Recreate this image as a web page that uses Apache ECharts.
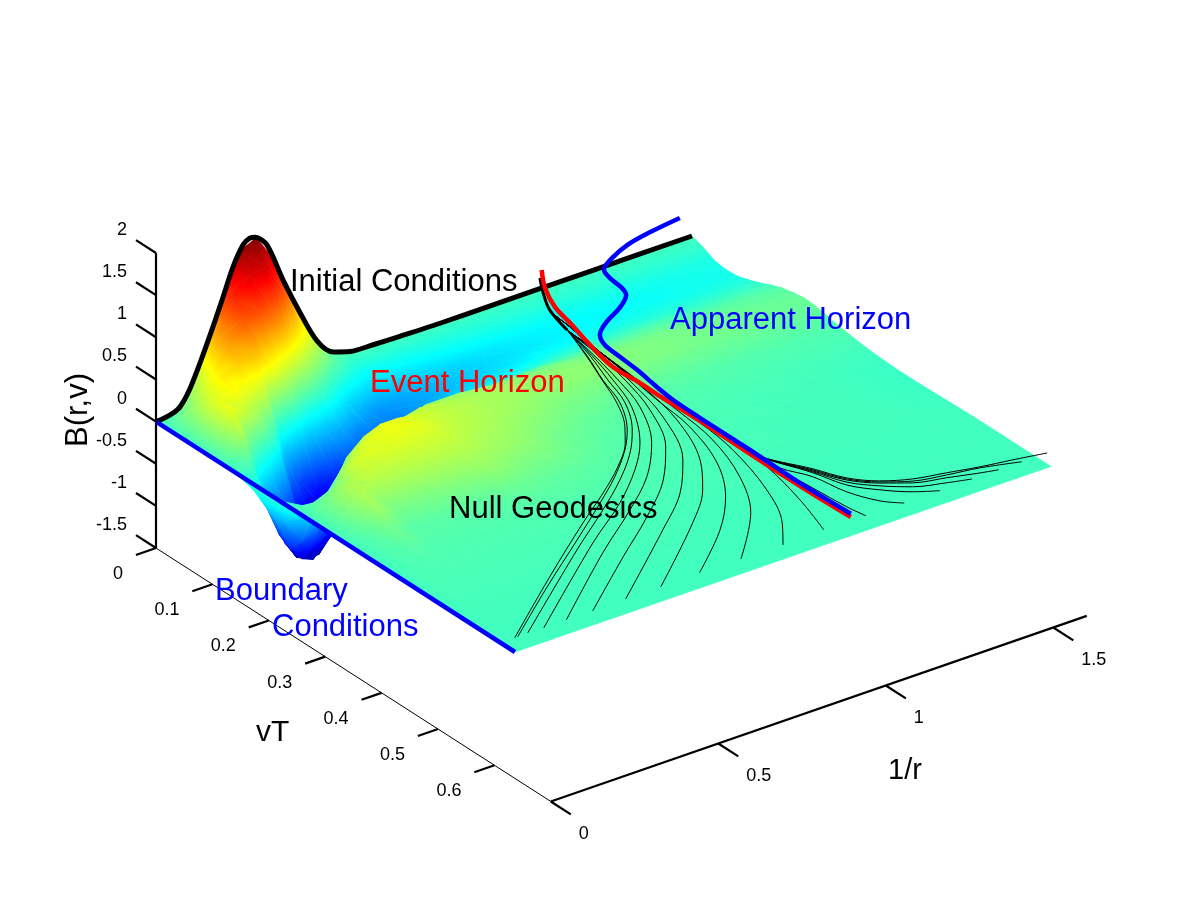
<!DOCTYPE html>
<html><head><meta charset="utf-8">
<style>html,body{margin:0;padding:0;background:#fff}#c{width:1200px;height:900px}</style>
<script src="https://cdn.jsdelivr.net/npm/echarts@6/dist/echarts.min.js"></script>
</head><body><div id="c"></div>
<script>
// ---------- data: surface B(1/r, vT) ----------
const aGrid = [0,.05,.1,.15,.2,.25,.3,.35,.4,.45,.5,.55,.6,.7,.8,.9,1,1.1,1.2,1.3,1.4,1.5,1.6];
const vGrid = [0,.02,.04,.06,.08,.1,.12,.14,.16,.18,.2,.22,.24,.26,.28,.3,.33,.36,.4,.45,.5,.55,.6,.6365];
const b000 = [0,0,0,0,0,0,0,0,0,0,0,0,0,0,0,0,0,0,0,0,0,0,0,0];
const b005 = [.03,.15,.3,.42,.52,.55,.4,.05,-.3,-.45,-.4,-.25,-.05,.1,.18,.18,.12,.06,.04,.03,.02,.01,0,0];
const b010 = [.25,.42,.58,.65,.6,.42,-.05,-.6,-.8,-.88,-.7,-.35,0,.22,.34,.36,.3,.15,.07,.03,.02,.01,0,0];
const b015 = [.7,.85,.9,.75,.5,.2,-.4,-1.05,-1.13,-1.0,-.6,-.1,.26,.45,.42,.34,.18,.08,.05,.03,.02,.01,0,0];
const b020 = [1.2,1.25,1.15,.8,.35,-.2,-.85,-1.3,-1.22,-.85,-.35,.25,.46,.5,.42,.34,.18,.08,.05,.03,.02,.01,0,0];
const b025 = [1.68,1.5,1.15,.55,-.4,-1.0,-1.3,-1.32,-1.03,-.55,-.1,.42,.52,.5,.42,.34,.18,.08,.05,.03,.02,.01,0,0];
const b030 = [1.77,1.5,.95,.2,-.8,-1.2,-1.25,-1.05,-.7,-.3,.25,.5,.55,.5,.42,.34,.2,.09,.05,.03,.02,.01,0,0];
const b035 = [1.45,1.1,.55,-.2,-1.0,-1.15,-1.05,-.8,-.45,-.1,.3,.5,.53,.48,.42,.34,.2,.09,.05,.03,.02,.01,0,0];
const b040 = [.98,.65,.2,-.35,-.9,-1.0,-.9,-.6,-.3,.1,.35,.47,.48,.45,.4,.34,.22,.1,.05,.03,.02,.01,0,0];
const b045 = [.55,.3,-.05,-.45,-.8,-.85,-.7,-.4,-.1,.2,.4,.43,.42,.4,.37,.33,.25,.12,.05,.03,.02,.01,0,0];
const b050 = [.2,.05,-.3,-.6,-.75,-.72,-.5,-.25,.05,.28,.38,.39,.38,.36,.33,.3,.22,.12,.06,.03,.02,.01,0,0];
const b055 = [.07,-.12,-.45,-.62,-.65,-.58,-.4,-.17,.08,.28,.35,.36,.35,.33,.3,.27,.19,.11,.06,.03,.02,.01,0,0];
const b060 = [.03,-.25,-.55,-.6,-.52,-.42,-.28,-.08,.12,.28,.33,.33,.32,.3,.27,.24,.17,.1,.06,.03,.02,.01,0,0];
const b070 = [.01,-.2,-.45,-.48,-.42,-.33,-.2,-.05,.1,.24,.29,.29,.27,.23,.19,.15,.12,.08,.05,.03,.02,.01,0,0];
const b080 = [0,-.15,-.35,-.38,-.33,-.26,-.15,-.02,.12,.22,.26,.26,.2,.16,.12,.1,.07,.05,.04,.02,.01,0,0,0];
const b090 = [0,-.12,-.28,-.31,-.27,-.2,-.11,0,.12,.2,.24,.23,.17,.12,.09,.07,.05,.04,.03,.02,.01,0,0,0];
const b100 = [0,-.1,-.23,-.26,-.22,-.16,-.08,.01,.1,.18,.22,.21,.14,.09,.06,.05,.04,.03,.02,.01,.01,0,0,0];
const b110 = [0,-.09,-.2,-.23,-.2,-.14,-.06,.02,.1,.17,.2,.19,.13,.08,.05,.04,.03,.02,.02,.01,0,0,0,0];
const b120 = [0,-.08,-.18,-.2,-.17,-.12,-.05,.03,.1,.16,.18,.17,.12,.07,.05,.03,.02,.02,.01,.01,0,0,0,0];
const b130 = [0,-.07,-.16,-.18,-.16,-.11,-.05,.03,.09,.14,.16,.15,.11,.06,.04,.03,.02,.01,.01,.01,0,0,0,0];
const b140 = [0,-.06,-.15,-.17,-.15,-.1,-.05,.02,.08,.13,.15,.14,.1,.06,.04,.02,.01,.01,.01,.01,0,0,0,0];
const b150 = [0,-.06,-.13,-.15,-.14,-.1,-.04,.02,.08,.11,.13,.12,.09,.05,.03,.02,0,-.01,-.01,0,0,0,0,0];
const b160 = [0,-.05,-.12,-.14,-.13,-.09,-.04,.02,.07,.1,.12,.11,.08,.05,.03,.01,-.01,-.02,-.02,-.01,0,0,0,0];
const surfaceColumns = [b000,b005,b010,b015,b020,b025,b030,b035,b040,b045,b050,b055,b060,b070,b080,b090,b100,b110,b120,b130,b140,b150,b160];

// ---------- data: initial condition at vT = 0, [1/r, B] pairs ----------
const initialConditions = [[0,0],[.025,.008],[.05,.03],[.0716,.075],[.1,.24],[.131,.51],[.17,.89],[.2,1.2],[.23,1.52],[.26,1.74],[.28,1.79],[.296,1.78],[.331,1.64],[.379,1.16],[.43,.7],[.48,.3],[.528,.1],[.579,.035],[.648,.02],[.728,.01],[.85,0],[1,0],[1.3,0],[1.6,0]];

// ---------- data: curves on the surface, [1/r, vT] pairs ----------
const eventHorizon = [[1.206,-.0325],[1.158,.002],[1.12,.042],[1.101,.08],[1.073,.132],[1.051,.186],[1.055,.231],[1.054,.2725],[1.057,.337],[1.054,.427],[1.054,.515],[1.059,.603]];
const apparentHorizon = [[1.631,-.04],[1.531,-.033],[1.447,-.024],[1.378,-.01],[1.327,.006],[1.314,.024],[1.307,.05],[1.294,.065],[1.246,.083],[1.175,.101],[1.123,.12],[1.102,.141],[1.095,.172],[1.089,.206],[1.076,.249],[1.068,.282],[1.066,.331],[1.066,.42],[1.063,.51],[1.069,.597]];
const stemLow = [[1.178,-.019],[1.139,.01],[1.101,.044],[1.074,.091]];
const stemHigh = [[1.178,-.019],[1.139,.01],[1.101,.044],[1.089,.087],[1.071,.151],[1.054,.245],[1.054,.339],[1.06,.428]];
const geo01 = [[1.031,.152],[.991,.202],[.95,.253],[.893,.301],[.845,.33],[.759,.368],[.651,.406],[.522,.447],[.295,.523],[.042,.611]];
const geo02 = [[1.033,.152],[.992,.203],[.956,.255],[.888,.308],[.824,.342],[.723,.384],[.615,.422],[.459,.474],[.258,.54],[.051,.611]];
const geo03 = [[1.04,.152],[1.002,.206],[.966,.258],[.898,.311],[.824,.351],[.723,.393],[.6,.436],[.428,.492],[.083,.61]];
const geo04 = [[1.045,.152],[1.012,.209],[.967,.269],[.874,.339],[.783,.384],[.654,.434],[.481,.489],[.129,.611]];
const geo05 = [[1.05,.152],[1.022,.212],[.983,.274],[.897,.346],[.785,.404],[.652,.453],[.47,.513],[.196,.611]];
const geo06 = [[1.06,.152],[1.035,.217],[.993,.286],[.912,.362],[.807,.42],[.664,.476],[.497,.533],[.275,.611]];
const geo07 = [[1.065,.152],[1.04,.226],[.997,.307],[.906,.396],[.8,.454],[.656,.509],[.375,.61]];
const geo08 = [[1.07,.152],[1.049,.24],[1.015,.321],[.939,.407],[.854,.462],[.735,.515],[.48,.61]];
const geo09 = [[1.07,.152],[1.037,.272],[1.019,.341],[.963,.423],[.877,.489],[.766,.545],[.597,.609]];
const geo10 = [[1.071,.151],[1.045,.303],[1.024,.379],[.965,.462],[.878,.533],[.719,.61]];
const geo11 = [[1.071,.151],[1.054,.245],[1.051,.34],[1.033,.409],[.978,.502],[.908,.571],[.843,.611]];
const geo12 = [[1.071,.151],[1.054,.245],[1.054,.397],[1.048,.461],[1.012,.541],[.968,.609]];
const geo13 = [[1.064,.474],[1.073,.527],[1.082,.582],[1.092,.61]];
const geo14 = [[1.07,.471],[1.107,.507],[1.127,.555],[1.164,.592],[1.205,.611]];
const geo15 = [[1.119,.5],[1.148,.543],[1.197,.572],[1.255,.596],[1.311,.611]];
const geo16 = [[1.122,.498],[1.157,.538],[1.209,.565],[1.27,.587],[1.348,.601],[1.409,.61]];
const geo17 = [[1.125,.497],[1.163,.534],[1.218,.56],[1.282,.58],[1.363,.592],[1.442,.604],[1.488,.61]];
const geo18 = [[1.128,.495],[1.166,.532],[1.221,.558],[1.288,.577],[1.372,.587],[1.458,.595],[1.557,.61]];
const geo19 = [[1.131,.493],[1.169,.53],[1.224,.556],[1.294,.573],[1.378,.583],[1.46,.593],[1.546,.601],[1.633,.61]];
const geodesicsLow = [geo01,geo02,geo03,geo04,geo05,geo06,geo07,geo08,geo09,geo10,geo11,geo12];
const geodesicsHigh = [geo13,geo14,geo15,geo16,geo17,geo18,geo19];

// ---------- data: axes ----------
const bTicks = [-1.5,-1,-.5,0,.5,1,1.5,2];
const vTicks = [0,.1,.2,.3,.4,.5,.6];
const aTicks = [0,.5,1,1.5];
const aRange = [0,1.6], vRange = [0,.7], bBase = -1.5;

// ---------- view: orthographic projection of (1/r, vT, B) on to the page plane ----------
const view = {ox:156, oy:421.6, ax:335, ay:-116, vx:564, vy:362, bz:-84.3};
const project = (a,v,b) => [view.ox+view.ax*a+view.vx*v, view.oy+view.ay*a+view.vy*v+view.bz*b];
const clim = [-1.377, 1.77];
const FONT = '"Liberation Sans", Arial, sans-serif';

function jet(t){
  const c = x => Math.round(255*Math.max(0,Math.min(1,1.5-Math.abs(4*t-x))));
  return 'rgb('+c(3)+','+c(2)+','+c(1)+')';
}
const jetAt = b => jet(Math.max(0,Math.min(1,(b-clim[0])/(clim[1]-clim[0]))));
const breaks = [0,.125,.375,.625,.875,1];

// triangles far-to-near, so that the painter's order hides what it should
const triangles = [];
for (let j=0;j<vGrid.length-1;j++){
  for (let i=aGrid.length-2;i>=0;i--){
    const a0=aGrid[i],a1=aGrid[i+1],v0=vGrid[j],v1=vGrid[j+1];
    const B=surfaceColumns;
    triangles.push([a0,v0,B[i][j], a1,v0,B[i+1][j], a1,v1,B[i+1][j+1]]);
    triangles.push([a0,v0,B[i][j], a1,v1,B[i+1][j+1], a0,v1,B[i][j+1]]);
  }
}
function triFill(p,z){
  const lo=Math.min(z[0],z[1],z[2]), hi=Math.max(z[0],z[1],z[2]);
  const x1=p[1][0]-p[0][0],y1=p[1][1]-p[0][1],x2=p[2][0]-p[0][0],y2=p[2][1]-p[0][1];
  const det=x1*y2-x2*y1, d1=z[1]-z[0], d2=z[2]-z[0];
  if (Math.abs(det)<1e-3 || hi-lo<1e-4) return jetAt((lo+hi)/2);
  const gx=(d1*y2-d2*y1)/det, gy=(x1*d2-x2*d1)/det, gg=gx*gx+gy*gy;
  if (gg<1e-12) return jetAt((lo+hi)/2);
  const s=(lo-z[0])/gg, e=(hi-z[0])/gg;
  const stops=[{offset:0,color:jetAt(lo)}];
  const span=clim[1]-clim[0];
  breaks.forEach(t=>{const b=clim[0]+t*span; if(b>lo&&b<hi) stops.push({offset:(b-lo)/(hi-lo),color:jet(t)});});
  stops.push({offset:1,color:jetAt(hi)});
  return {type:'linear',global:true,x:p[0][0]+gx*s,y:p[0][1]+gy*s,x2:p[0][0]+gx*e,y2:p[0][1]+gy*e,colorStops:stops};
}
const lineOf = pts => pts.map(q=>project(q[0],q[1],q.length>2?q[2]:0));
const lineSeries = (data,color,width,smooth) => ({type:'line',data,symbol:'none',silent:true,smooth:smooth===undefined?0.35:smooth,
  animation:false,clip:false,connectNulls:false,lineStyle:{color,width,cap:'butt',join:'round'},z:3});

const series = [];
// surface
series.push({type:'custom',data:triangles,silent:true,animation:false,clip:false,progressive:0,z:2,
  encode:{x:0,y:1},
  renderItem(params,api){
    const p=[],z=[];
    for(let k=0;k<3;k++){
      const a=api.value(k*3),v=api.value(k*3+1),b=api.value(k*3+2);
      p.push(api.coord(project(a,v,b))); z.push(b);
    }
    const f=triFill(p,z);
    return {type:'polygon',shape:{points:p},style:{fill:f,stroke:f,lineWidth:.7},silent:true};
  }});
// geodesics
geodesicsLow.forEach(g=>series.push(lineSeries(lineOf(stemLow.concat(g)),'#000',1)));
geodesicsHigh.forEach(g=>series.push(lineSeries(lineOf(stemHigh.concat(g)),'#000',1)));
series.push(lineSeries(lineOf(stemLow),'#000',3));
// initial and boundary conditions
series.push(lineSeries(initialConditions.map(q=>project(q[0],0,q[1])),'#000',5,0.3));
series.push(lineSeries([project(0,0,0),project(0,vGrid[vGrid.length-1],0)],'#0000ff',4.5,false));
// horizons
series.push(lineSeries(lineOf(eventHorizon),'#ff0000',4.5));
series.push(lineSeries(lineOf(apparentHorizon),'#0000ff',4.5));
// axes
function axisData(from,to,ticks,tickAt,tickEnd){
  const d=[from,to];
  return {line:d,ticks:ticks.reduce((o,t)=>{o.push(tickAt(t),tickEnd(t),null);return o;},[])};
}
const bAxis=axisData(project(0,0,bBase),project(0,0,2),bTicks,t=>project(0,0,t),t=>project(0,-.0355,t));
const vAxis=axisData(project(0,0,bBase),project(0,vRange[1],bBase),vTicks,t=>project(0,t,bBase),t=>project(-.06,t,bBase));
const aAxis=axisData(project(0,vRange[1],bBase),project(aRange[1],vRange[1],bBase),aTicks,t=>project(t,vRange[1],bBase),t=>project(t,vRange[1]+.0355,bBase));
[[bAxis,2.2],[vAxis,1],[aAxis,2.2]].forEach(([ax,w])=>{
  series.push(lineSeries(ax.line,'#000',w,false));
  series.push(lineSeries(ax.ticks.map(q=>q||[null,null]),'#000',2.2,false));
});
// tick labels
function tickLabels(ticks,at,dx,dy,align){
  return {type:'custom',data:ticks.map(t=>at(t).concat(t)),silent:true,animation:false,clip:false,z:5,encode:{x:0,y:1},
    renderItem(params,api){
      const c=api.coord([api.value(0),api.value(1)]);
      return {type:'text',x:c[0]+dx,y:c[1]+dy,silent:true,style:{text:String(api.value(2)),fill:'#000',align,verticalAlign:'middle',font:'18px '+FONT}};
    }};
}
series.push(tickLabels(bTicks,t=>project(0,0,t),-29,-23,'right'));
series.push(tickLabels(vTicks,t=>project(0,t,bBase),-33,26,'right'));
series.push(tickLabels(aTicks,t=>project(t,vRange[1],bBase),28,33,'left'));

const txt=(text,x,y,fill,size)=>({type:'text',x,y,z:10,silent:true,style:{text,fill,font:(size||31)+'px '+FONT,align:'left',verticalAlign:'middle'}});
const chart=echarts.init(document.getElementById('c'),null,{renderer:'canvas'});
chart.setOption({
  animation:false,backgroundColor:'#fff',tooltip:{show:false},legend:{show:false},
  grid:{left:0,top:0,width:1200,height:900,containLabel:false},
  xAxis:{type:'value',min:0,max:1200,show:false},
  yAxis:{type:'value',min:0,max:900,inverse:true,show:false},
  series,
  graphic:{elements:[
    txt('Initial Conditions',290,282,'#000'),
    txt('Event Horizon',370,383,'#ff0000'),
    txt('Apparent Horizon',670,320,'#0000ff'),
    txt('Null Geodesics',449,509,'#000'),
    txt('Boundary',215,591,'#0000ff'),
    txt('Conditions',272,627,'#0000ff'),
    txt('1/r',888,771,'#000',29),
    txt('vT',256,733,'#000',30),
    {type:'text',x:78,y:410,z:10,silent:true,rotation:Math.PI/2,style:{text:'B(r,v)',fill:'#000',font:'31px '+FONT,align:'center',verticalAlign:'middle'}}
  ]}
});
</script></body></html>
